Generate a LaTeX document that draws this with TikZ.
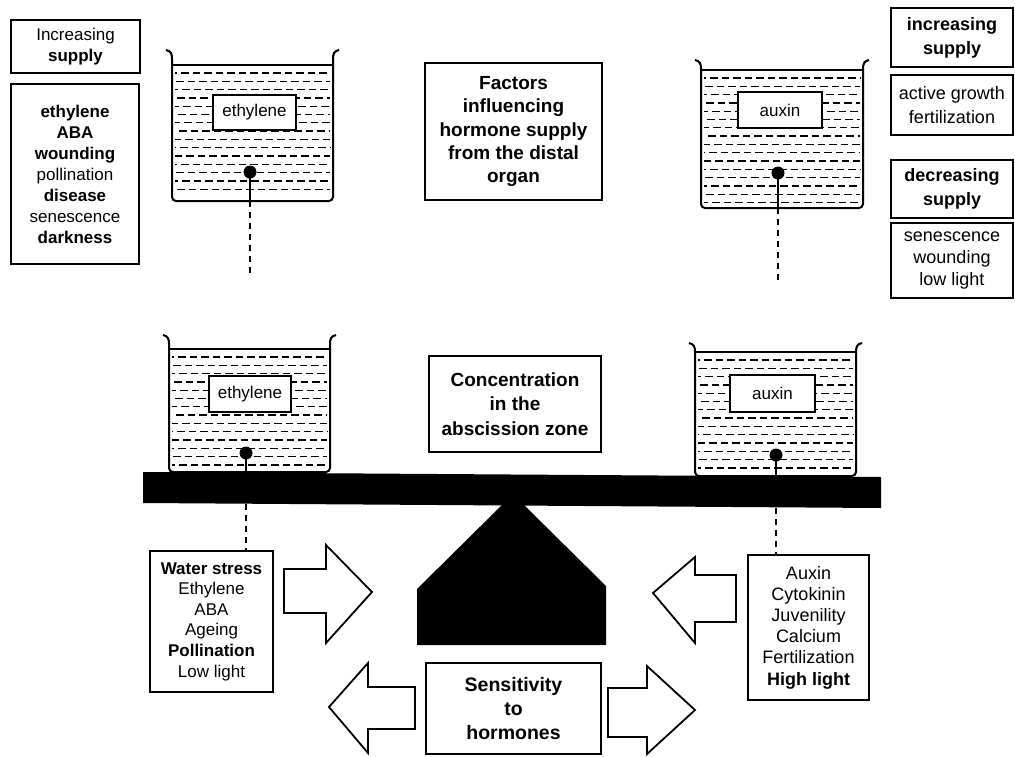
\documentclass[tikz,border=0pt]{standalone}
\usepackage{fontspec}
\setmainfont{Liberation Sans}
\newcommand{\fsz}[2]{\fontsize{#1}{#2}\selectfont}
\tikzset{
  box/.style={draw, line width=1.6pt, fill=white, align=center, inner sep=0pt},
  lbl/.style={draw, line width=1.3pt, fill=white, align=center, inner sep=0pt, font=\fsz{17}{20}},
  dot/.style={circle, fill=black, inner sep=0pt, minimum size=13pt},
  link/.style={line width=1.1pt, dash pattern=on 6pt off 5pt},
  stem/.style={line width=1.4pt},
  liq/.style={line width=1.3pt, dash pattern=on 7.5pt off 4pt},
  wall/.style={line width=2pt},
  blockarrow/.style={draw, line width=1.8pt, fill=white, line join=miter},
}
\newcommand{\drawbeaker}[5]{%
  \pgfmathsetmacro\bya{#4+8}%
  \pgfmathsetmacro\byb{#4+16.3}%
  \pgfmathsetmacro\byc{#5-4}%
  \foreach \yy [count=\ii] in {\bya,\byb,...,\byc}{%
    \pgfmathsetmacro\ph{mod(\ii*5,11)+0.5}%
    \draw[liq, dash phase=\ph pt] (#1+3,\yy) -- (#2-3,\yy);
  }%
  \draw[line width=1.2pt] (#1,#4) -- (#2,#4);
  \draw[wall, rounded corners=4pt] (#1,#3+9) -- (#1,#5) -- (#2,#5) -- (#2,#3+9);
  \draw[wall] (#1-6,#3) .. controls (#1-1,#3+1) and (#1,#3+4) .. (#1,#3+9);
  \draw[wall] (#2+6,#3) .. controls (#2+1,#3+1) and (#2,#3+4) .. (#2,#3+9);
}
\begin{document}
\begin{tikzpicture}[x=1pt,y=-1pt]
\useasboundingbox (0,0) rectangle (1015,756);

% ---------- top-left side boxes
\node[box, minimum width=129pt, minimum height=53pt, font=\fsz{17}{21}] (incL) at (75.5,46.5)
  {Increasing\\\textbf{supply}};
\node[box, minimum width=128pt, minimum height=180pt, font=\fsz{17}{21}] (listL) at (75,174)
  {\textbf{ethylene}\\\textbf{ABA}\\\textbf{wounding}\\pollination\\\textbf{disease}\\senescence\\\textbf{darkness}};

% ---------- top-right side boxes
\node[box, minimum width=122pt, minimum height=59pt, font=\bfseries\fsz{18}{24}] (incR) at (952,37.5)
  {increasing\\supply};
\node[box, minimum width=122pt, minimum height=60pt, font=\fsz{18}{24}] (actR) at (952,105)
  {active growth\\fertilization};
\node[box, minimum width=122pt, minimum height=58pt, font=\bfseries\fsz{18}{24}] (decR) at (952,189)
  {decreasing\\supply};
\node[box, minimum width=122pt, minimum height=75pt, font=\fsz{18}{22}] (senR) at (952,260.5)
  {senescence\\wounding\\low light};

% ---------- centre title boxes
\node[box, minimum width=177pt, minimum height=137pt, font=\bfseries\fsz{19}{23.3}] (fact) at (513.5,131.5)
  {Factors\\influencing\\hormone supply\\from the distal\\organ};
\node[box, minimum width=172pt, minimum height=96pt, font=\bfseries\fsz{19}{24.5}] (conc) at (515,404)
  {Concentration\\in the\\abscission zone};

% ---------- beakers
\drawbeaker{172}{333}{50}{65}{201}
\drawbeaker{701}{863}{60}{70}{208}
\drawbeaker{169}{330}{335}{349}{472}
\drawbeaker{695}{856}{343}{352}{476}

\node[lbl, minimum width=83pt, minimum height=35pt] (eth1) at (254.5,112.5) {ethylene};
\node[lbl, minimum width=84pt, minimum height=36pt] (aux1) at (780,110) {auxin};
\node[lbl, minimum width=82pt, minimum height=36pt] (eth2) at (250,394) {ethylene};
\node[lbl, minimum width=85pt, minimum height=37pt] (aux2) at (772.5,393.5) {auxin};

\node[dot] (d1) at (250,172) {};
\node[dot] (d2) at (778,173) {};
\node[dot] (d3) at (246,453) {};
\node[dot] (d4) at (776,455) {};

% stems and dashed lines of the upper beakers
\coordinate (b1) at (250,201);
\coordinate (b2) at (778,208);
\coordinate (e1) at (250,276);
\coordinate (e2) at (778,280);
\draw[stem] (d1.center) -- (b1);
\draw[stem] (d2.center) -- (b2);
\draw[link] (b1) -- (e1);
\draw[link] (b2) -- (e2);

% stems of the lower beakers
\coordinate (b3) at (246,472);
\coordinate (b4) at (776,476);
\draw[stem] (d3.center) -- (b3);
\draw[stem] (d4.center) -- (b4);

% ---------- balance bar and fulcrum
\fill[black] (143,472) -- (881,477) -- (881,508) -- (143,503) -- cycle;
\fill[black] (417,645) -- (417,589) -- (503,504) -- (523,504) -- (606,586) -- (606,645) -- cycle;

% ---------- lower lists
\node[box, minimum width=123pt, minimum height=141pt, font=\fsz{17}{20.6}] (listBL) at (211.5,621.5)
  {\textbf{Water stress}\\Ethylene\\ABA\\Ageing\\\textbf{Pollination}\\Low light};
\node[box, minimum width=121pt, minimum height=145pt, font=\fsz{18}{21.2}] (listBR) at (808.5,627.5)
  {Auxin\\Cytokinin\\Juvenility\\Calcium\\Fertilization\\\textbf{High light}};

\coordinate (c3) at (246,504);
\coordinate (c4) at (776,507.5);
\draw[link] (c3) -- (c3 |- listBL.north);
\draw[link] (c4) -- (c4 |- listBR.north);

% ---------- sensitivity box
\node[box, minimum width=175pt, minimum height=91pt, font=\bfseries\fsz{19.5}{24}] (sens) at (513.5,708.5)
  {Sensitivity\\to\\hormones};

% ---------- block arrows
\draw[blockarrow] (284,569) -- (326,569) -- (326,545) -- (372,592) -- (326,643) -- (326,613) -- (284,613) -- cycle;
\draw[blockarrow] (736,575) -- (695,575) -- (695,557) -- (653,593) -- (695,643) -- (695,622) -- (736,622) -- cycle;
\draw[blockarrow] (415,687) -- (368,687) -- (368,663) -- (329,707) -- (368,753) -- (368,729) -- (415,729) -- cycle;
\draw[blockarrow] (608,688) -- (647,688) -- (647,666) -- (695,710) -- (647,754) -- (647,737) -- (608,737) -- cycle;
\end{tikzpicture}
\end{document}
